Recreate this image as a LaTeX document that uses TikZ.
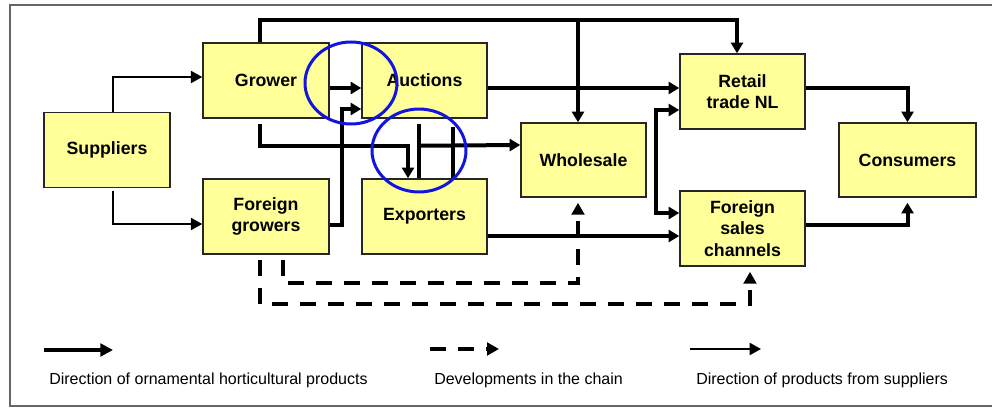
\documentclass[tikz,border=0pt]{standalone}
\usepackage{fontspec}
\setmainfont{Liberation Sans}
\usetikzlibrary{arrows.meta,calc}
\definecolor{boxfill}{RGB}{255,255,153}
\definecolor{ringblue}{RGB}{20,20,225}
\begin{document}
\begin{tikzpicture}[x=0.75pt,y=0.75pt,yscale=-1,
  box/.style={draw=black!85, line width=1.1pt, fill=boxfill, align=center, inner sep=0pt,
    minimum width=94.5pt, minimum height=56.25pt, font=\fontsize{13.3}{16}\selectfont\bfseries},
  flow/.style={line width=3pt, -{Triangle[length=8pt,width=9pt]}},
  thinflow/.style={line width=1.5pt, -{Triangle[length=8.5pt,width=9pt]}},
  devflow/.style={line width=3pt, dash pattern=on 12pt off 9pt, -{Triangle[length=9pt,width=9.5pt]}},
  ring/.style={draw=ringblue, line width=2.25pt},
  legend/.style={anchor=base west, inner sep=0pt, font=\fontsize{12}{14}\selectfont}]
\useasboundingbox (0,0) rectangle (992,410);

%Shape: Frame
\draw [draw=black!60, line width=0.9pt] (10,5) rectangle (1000,406);

%Shape: Boxes
\node [box] (sup) at (107,150) {Suppliers};
\node [box] (grow) at (266,80.5) {Grower};
\node [box] (fgrow) at (266,216.5) {Foreign\\growers};
\node [box, minimum width=93.75pt] (auct) at (424.5,80.5) {Auctions};
\node [box, minimum width=93.75pt] (expo) at (424.5,216.5) {Exporters};
\node [box, minimum width=93.75pt, minimum height=55.5pt] (whole) at (583.5,160) {Wholesale};
\node [box, minimum width=93.75pt] (retail) at (742.5,91.5) {Retail\\trade NL};
\node [box, minimum width=93.75pt] (fsales) at (742.5,228.5) {Foreign\\sales\\channels};
\node [box, minimum width=102.75pt, minimum height=55.5pt] (cons) at (907.5,160) {Consumers};

%Thin Lines: from suppliers
\draw [thinflow] ($(sup.north)+(6,0)$) |- ($(grow.west)+(0,-3.5)$);
\draw [thinflow] ($(sup.south)+(6,3)$) |- ($(fgrow.west)+(0,7.5)$);

%Thick Lines: grower and foreign growers
\draw [flow] ($(grow.east)+(0,7.5)$) -- ($(auct.west)+(0,7.5)$);
\draw [flow] ($(fgrow.east)+(0,8.5)$) -- ++(12,0) |- ($(auct.west)+(0,28.5)$);
\coordinate (topbend) at ($(grow.north)+(-6,-22)$);
\draw [flow] ($(grow.north)+(-6,0)$) -- (topbend) -| ($(retail.north)+(-5.5,0)$);
\draw [flow] ($(topbend -| whole.north)+(-5.5,0)$) -- ($(whole.north)+(-5.5,0)$);
\draw [flow] ($(grow.south)+(-6,5)$) -- ++(0,22) -| ($(expo.north)+(-16.5,0)$);

%Thick Lines: auctions and exporters
\draw [flow, -] ($(auct.south)+(-5.5,5)$) -- ($(expo.north)+(-5.5,0)$);
\draw [flow] ($(auct.south)+(-5.5,27)$) -- ($(whole.west)+(0,-15)$);
\draw [flow, -] ($(expo.north)+(28.5,0)$) -- ($(expo.north)+(28.5,-51)$);
\draw [flow] ($(auct.east)+(0,7.5)$) -- ($(retail.west)+(0,-3.5)$);
\draw [flow] ($(expo.east)+(0,19.5)$) -- ($(fsales.west)+(0,7.5)$);

%Thick Lines: retail and foreign sales
\draw [flow, {Triangle[length=8pt,width=9pt]}-{Triangle[length=8pt,width=9pt]}]
  ($(retail.west)+(0,18.5)$) -- ++(-23,0) |- ($(fsales.west)+(0,-15.5)$);
\draw [flow] ($(retail.east)+(0,-3.5)$) -| (cons.north);
\draw [flow, shorten >=3.75pt] ($(fsales.east)+(0,-3.5)$) -| (cons.south);

%Dashed Lines: developments
\draw [devflow] ($(fgrow.south)+(-6,5)$) -- ++(0,44) -| ($(fsales.south)+(7.5,5)$);
\draw [devflow] ($(fgrow.south)+(17,5)$) -- ++(0,23) -| ($(whole.south)+(-5.5,5)$);

%Shape: Circles
\draw [ring] (351,83) ellipse [x radius=34.5pt, y radius=30.75pt];
\draw [ring] (419,150.5) ellipse [x radius=35.25pt, y radius=31.1pt];

%Legend
\coordinate (lgflowA) at (44,350);
\coordinate (lgflowB) at (113,350);
\coordinate (lgdevA) at (430,349);
\coordinate (lgdevB) at (499,349);
\coordinate (lgthinA) at (690,349);
\coordinate (lgthinB) at (761,349);
\draw [flow, -{Triangle[length=9.5pt,width=9.5pt]}] (lgflowA) -- (lgflowB);
\draw [devflow] (lgdevA) -- (lgdevB);
\draw [thinflow] (lgthinA) -- (lgthinB);

% Text Node
\node [legend] (lgtxtA) at (49,384) {Direction of ornamental horticultural products};
\node [legend] (lgtxtB) at (434,384) {Developments in the chain};
\node [legend] (lgtxtC) at (696,384) {Direction of products from suppliers};

\end{tikzpicture}
\end{document}
